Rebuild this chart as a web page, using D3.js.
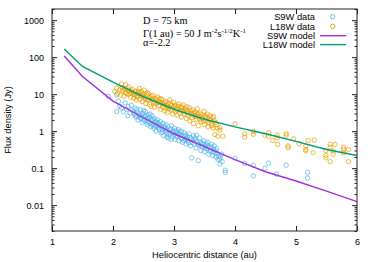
<!DOCTYPE html>
<html>
<head>
<meta charset="utf-8">
<script src="https://cdn.jsdelivr.net/npm/d3@7"></script>
<style>
  body { margin: 0; background: #fff; }
  svg { display: block; }
  text { font-family: "Liberation Sans", Arial, sans-serif; fill: #000; }
  .note { font-family: "Liberation Serif", "Times New Roman", serif; }
</style>
</head>
<body>
<div id="wrapper"></div>
<script>
// model curves
const modelDist = [1.2, 1.5, 2, 2.5, 3, 3.5, 4, 4.5, 5, 5.5, 6]
const s9wModel = [107, 30, 6.5, 2.3, 0.85, 0.38, 0.17, 0.08, 0.045, 0.024, 0.0125]
const l18wModel = [166, 56, 21, 8.5, 3.9, 2.1, 1.3, 0.85, 0.53, 0.32, 0.22]

// observed points [distance, flux]
const s9wData = [
  [1.92,8.7],[2.06,9.6],[2.09,6.4],[2.11,4.7],[2.06,3.4],[2.17,3.4],[2.20,5.8],[2.14,4.2],[2.22,3.9],[2.25,4.6],[2.28,3.1],[2.30,5.0],[2.24,2.6],
  [2.32,3.6],[2.35,2.9],[2.36,4.2],[2.38,2.4],[2.40,3.3],[2.41,2.0],[2.43,2.7],[2.45,3.8],[2.46,2.2],[2.48,1.7],[2.49,3.0],[2.51,2.5],[2.52,1.9],
  [2.53,3.4],[2.55,2.1],[2.56,1.5],[2.58,2.8],[2.59,1.8],[2.60,2.3],[2.62,1.3],[2.63,2.0],[2.64,2.6],[2.66,1.6],[2.67,1.2],[2.68,2.2],[2.70,1.7],
  [2.71,1.0],[2.72,1.4],[2.73,2.0],[2.75,1.5],[2.76,1.1],[2.78,1.8],[2.79,0.9],[2.80,1.3],[2.82,1.6],[2.83,0.75],[2.85,1.2],[2.86,1.0],[2.87,1.5],
  [2.89,0.85],[2.90,1.3],[2.91,0.65],[2.93,1.1],[2.94,0.9],[2.96,1.4],[2.97,0.7],[2.98,1.0],[3.00,0.8],[3.01,1.2],[3.02,0.6],[3.04,0.95],[3.05,0.7],
  [3.07,1.1],[3.08,0.55],[3.09,0.85],[3.11,0.65],[3.12,1.0],[3.14,0.5],[3.15,0.75],[3.17,0.9],[3.18,0.6],[3.20,0.45],[3.18,0.73],
  [3.22,0.7],[3.23,0.55],[3.25,0.85],[3.27,0.4],[3.28,0.62],[3.29,0.19],[3.30,0.5],[3.32,0.75],[3.33,0.45],[3.35,0.6],[3.36,0.35],[3.37,0.78],
  [3.38,0.52],[3.40,0.16],[3.41,0.42],[3.42,0.65],[3.44,0.3],[3.46,0.48],[3.47,0.38],[3.49,0.55],[3.50,0.28],[3.52,0.4],[3.54,0.33],[3.55,0.5],
  [3.57,0.24],[3.58,0.36],[3.60,0.3],[3.62,0.44],[3.63,0.22],[3.65,0.32],[3.67,0.26],[3.69,0.2],[3.70,0.34],[3.72,0.17],[3.75,0.128],[3.75,0.174],
  [3.78,0.24],[3.84,0.088],[3.84,0.077],
  [2.34,3.2],[2.37,2.6],[2.39,3.9],[2.42,2.9],[2.44,2.3],[2.47,2.6],[2.50,2.0],[2.50,3.6],[2.54,2.6],[2.57,2.4],[2.57,1.7],[2.61,2.9],[2.61,1.6],
  [2.65,2.1],[2.65,1.4],[2.69,1.9],[2.69,1.35],[2.74,1.7],[2.74,1.25],[2.77,1.4],[2.81,1.1],[2.81,0.95],[2.84,1.35],[2.88,1.1],[2.88,0.7],[2.92,0.8],
  [2.95,1.15],[2.95,0.6],[2.99,0.9],[3.03,1.05],[3.03,0.75],[3.06,0.85],[3.10,0.75],[3.10,0.95],[3.13,0.62],[3.16,0.55],[3.19,0.8],[3.21,0.62],
  [3.24,0.48],[3.26,0.68],[3.31,0.58],[3.34,0.66],[3.39,0.45],[3.43,0.5],[3.45,0.38],[3.48,0.45],[3.51,0.35],[3.53,0.45],[3.56,0.4],[3.59,0.28],
  [3.61,0.37],[3.64,0.28],[3.66,0.4],[3.68,0.3],[3.71,0.25],[3.73,0.21],[3.76,0.2],[3.79,0.15],
  [4.0,0.185],[4.16,0.134],[4.30,0.12],[4.30,0.062],[4.55,0.136],[4.49,0.10],[4.68,0.069],[4.84,0.12],[5.19,0.077],[5.19,0.054]
]
const l18wData = [
  [2.03,11.8],[2.06,14.6],[2.11,13.1],[2.14,19],[2.21,18],[2.08,10.5],[2.12,9.4],[2.16,12.5],[2.18,8.8],[2.20,11],[2.23,14],[2.25,9.9],[2.27,12.2],[2.29,8.3],
  [2.31,10.8],[2.32,13.5],[2.34,7.8],[2.35,9.6],[2.37,12],[2.38,6.9],[2.40,10.2],[2.41,8.4],[2.43,14.2],[2.44,7.2],[2.46,9.1],[2.47,11.5],[2.48,6.3],
  [2.50,8.7],[2.51,12.8],[2.53,7.5],[2.54,5.6],[2.55,9.8],[2.57,6.8],[2.58,10.5],[2.60,5.2],[2.61,8.0],[2.62,4.7],[2.64,7.1],[2.65,9.3],[2.67,6.2],
  [2.68,4.4],[2.70,7.6],[2.72,5.5],[2.73,8.4],[2.75,4.8],[2.76,6.6],[2.78,3.9],[2.79,5.9],[2.80,7.2],[2.82,4.4],[2.83,5.3],[2.85,3.5],[2.86,6.3],
  [2.88,4.9],[2.89,3.2],[2.91,5.7],[2.92,4.2],[2.93,7.0],[2.95,3.7],[2.96,5.0],[2.98,2.9],[2.99,4.5],[3.00,6.0],[3.02,3.4],[3.03,4.8],[3.05,2.7],
  [3.06,4.0],[3.08,5.4],[3.09,3.1],[3.11,4.4],[3.12,2.4],[3.14,3.6],[3.15,5.1],[3.17,2.9],[3.18,4.1],[3.20,2.2],
  [3.22,3.5],[3.23,2.6],[3.25,4.3],[3.26,1.9],[3.28,3.0],[3.29,2.3],[3.31,3.8],[3.32,1.6],[3.34,2.7],[3.35,3.3],[3.37,2.1],[3.38,4.0],[3.40,1.4],
  [3.41,2.5],[3.43,3.1],[3.44,1.8],[3.46,2.8],[3.47,2.2],[3.49,3.4],[3.50,1.5],[3.52,2.4],[3.53,1.9],[3.55,2.9],[3.56,1.3],[3.58,2.1],[3.59,2.6],
  [3.61,1.6],[3.63,2.3],[3.64,1.2],[3.66,1.9],[3.67,0.81],[3.72,0.73],[3.80,0.73],[3.75,1.23],[3.75,1.06],[3.70,1.5],
  [2.15,15],[2.19,13.8],[2.22,10.3],[2.26,15.5],[2.28,10.4],[2.30,12.3],[2.33,10.1],[2.36,11.3],[2.39,8.9],[2.42,11.8],[2.45,10.4],[2.49,9.8],
  [2.52,8.2],[2.56,11],[2.59,7.3],[2.63,8.6],[2.66,7.4],[2.69,5.8],[2.71,6.8],[2.74,6.1],[2.77,7.6],[2.81,5.6],[2.84,6.0],[2.87,4.2],[2.90,4.6],
  [2.94,5.4],[2.97,3.9],[3.01,5.1],[3.04,3.8],[3.07,4.7],[3.10,3.6],[3.13,4.5],[3.16,3.3],[3.19,3.7],[3.21,4.6],[3.24,3.1],[3.27,3.6],[3.30,2.7],
  [3.33,3.1],[3.36,2.5],[3.39,2.9],[3.42,2.1],[3.45,2.4],[3.48,1.9],[3.51,2.6],[3.54,2.2],[3.57,1.7],[3.60,2.0],[3.62,1.4],[3.65,2.5],[3.68,1.7],[3.71,1.2],
  [4.0,1.58],[4.16,0.85],[4.16,0.69],[4.30,0.98],[4.30,0.82],[4.55,0.91],[4.49,0.78],[4.55,0.73],[4.62,0.56],[4.69,0.78],[4.69,0.66],[4.70,0.44],
  [4.84,0.85],[4.84,0.77],[4.96,0.62],[4.87,0.40],[4.87,0.36],[5.05,0.46],[5.16,0.40],[5.16,0.32],[5.16,0.29],[5.20,0.56],[5.30,0.57],[5.28,0.26],
  [5.49,0.30],[5.49,0.22],[5.49,0.19],[5.56,0.44],[5.56,0.37],[5.64,0.44],[5.61,0.29],[5.61,0.24],[5.56,0.15],[5.78,0.37],[5.78,0.32],[5.78,0.26],
  [5.86,0.32],[5.86,0.15]
]

const xTicks = [1, 2, 3, 4, 5, 6]
const yTicks = [0.01, 0.1, 1, 10, 100, 1000]
const yTickLabels = ["0.01", "0.1", "1", "10", "100", "1000"]
const legendNames = ["S9W data", "L18W data", "S9W model", "L18W model"]

const colors = { s9wData: "#56b4e9", l18wData: "#e69f00", s9wModel: "#a030e0", l18wModel: "#009e73" }

const width = 374, height = 262
const margin = { top: 9, right: 17, bottom: 31, left: 52 }
const bw = width - margin.left - margin.right
const bh = height - margin.top - margin.bottom

const svg = d3.select("#wrapper").append("svg")
  .attr("width", width).attr("height", height)

const bounds = svg.append("g")
  .attr("transform", `translate(${margin.left},${margin.top})`)

const xScale = d3.scaleLinear().domain([1, 6]).range([0, bw])
const yScale = d3.scaleLog().domain([0.002, 2000]).range([bh, 0])

// data points
const drawDots = (data, color) => {
  bounds.append("g").selectAll("circle")
    .data(data)
    .join("circle")
      .attr("cx", d => xScale(d[0]))
      .attr("cy", d => yScale(d[1]))
      .attr("r", 2.2)
      .attr("fill", "none")
      .attr("stroke", color)
      .attr("stroke-width", 0.9)
      .attr("stroke-opacity", 0.8)
}
drawDots(s9wData, colors.s9wData)
drawDots(l18wData, colors.l18wData)

// model lines
const line = d3.line()
  .x(d => xScale(d[0]))
  .y(d => yScale(d[1]))
const drawModel = (vals, color) => {
  bounds.append("path")
    .datum(modelDist.map((x, i) => [x, vals[i]]))
    .attr("d", line)
    .attr("fill", "none")
    .attr("stroke", color)
    .attr("stroke-width", 1.4)
}
drawModel(s9wModel, colors.s9wModel)
drawModel(l18wModel, colors.l18wModel)

// axes, gnuplot style inward ticks
const minorY = yScale.ticks().filter(v => !yTicks.some(t => Math.abs(t - v) < 1e-9))
const styleAxis = g => {
  g.select(".domain").remove()
  g.selectAll("line").attr("stroke", "#222")
  g.selectAll("text").style("font-size", "9px").attr("fill", "#000")
}

bounds.append("g").attr("transform", `translate(0,${bh})`)
  .call(d3.axisBottom(xScale).tickValues(xTicks).tickFormat(d3.format("d")).tickSizeInner(-5).tickPadding(8))
  .call(styleAxis)
bounds.append("g")
  .call(d3.axisTop(xScale).tickValues(xTicks).tickFormat("").tickSizeInner(-5))
  .call(styleAxis)

bounds.append("g")
  .call(d3.axisLeft(yScale).tickValues(yTicks).tickFormat((d, i) => yTickLabels[i]).tickSizeInner(-5).tickPadding(8))
  .call(styleAxis)
bounds.append("g")
  .call(d3.axisLeft(yScale).tickValues(minorY).tickFormat("").tickSizeInner(-2.5))
  .call(styleAxis)
bounds.append("g").attr("transform", `translate(${bw},0)`)
  .call(d3.axisRight(yScale).tickValues(yTicks).tickFormat("").tickSizeInner(-5))
  .call(styleAxis)
bounds.append("g").attr("transform", `translate(${bw},0)`)
  .call(d3.axisRight(yScale).tickValues(minorY).tickFormat("").tickSizeInner(-2.5))
  .call(styleAxis)

bounds.append("rect")
  .attr("width", bw).attr("height", bh)
  .attr("fill", "none").attr("stroke", "#222").attr("stroke-width", 1)

// axis labels
svg.append("text")
  .attr("x", margin.left + bw / 2).attr("y", 258)
  .attr("text-anchor", "middle")
  .style("font-size", "9.3px")
  .text("Heliocentric distance (au)")
svg.append("text")
  .attr("transform", `translate(11,${margin.top + bh / 2}) rotate(-90)`)
  .attr("text-anchor", "middle")
  .style("font-size", "9.3px")
  .text("Flux density (Jy)")

// annotation
const note = svg.append("g").attr("class", "note").style("font-size", "10.3px")
note.append("text").attr("class", "note").attr("x", 143).attr("y", 24).text("D = 75 km")
const g2 = note.append("text").attr("class", "note").attr("x", 143).attr("y", 36.5)
g2.append("tspan").text("Γ(1 au) = 50 J m")
g2.append("tspan").attr("dy", -3.8).style("font-size", "7px").text("-2")
g2.append("tspan").attr("dy", 3.8).text("s")
g2.append("tspan").attr("dy", -3.8).style("font-size", "7px").text("-1/2")
g2.append("tspan").attr("dy", 3.8).text("K")
g2.append("tspan").attr("dy", -3.8).style("font-size", "7px").text("-1")
note.append("text").attr("class", "note").attr("x", 143).attr("y", 46).text("α=-2.2")

// legend
const legend = svg.append("g")
const legendY = [16.7, 26.4, 35.7, 44.6]
const legendColors = [colors.s9wData, colors.l18wData, colors.s9wModel, colors.l18wModel]
legendNames.forEach((name, i) => {
  legend.append("text")
    .attr("x", 315).attr("y", legendY[i]).attr("dy", "0.35em")
    .attr("text-anchor", "end")
    .style("font-size", "9.3px")
    .text(name)
  if (i < 2) {
    legend.append("circle")
      .attr("cx", 332.7).attr("cy", legendY[i]).attr("r", 2.2)
      .attr("fill", "none").attr("stroke", legendColors[i]).attr("stroke-width", 0.9)
  } else {
    legend.append("line")
      .attr("x1", 320).attr("x2", 346).attr("y1", legendY[i]).attr("y2", legendY[i])
      .attr("stroke", legendColors[i]).attr("stroke-width", 1.4)
  }
})
</script>
</body>
</html>
